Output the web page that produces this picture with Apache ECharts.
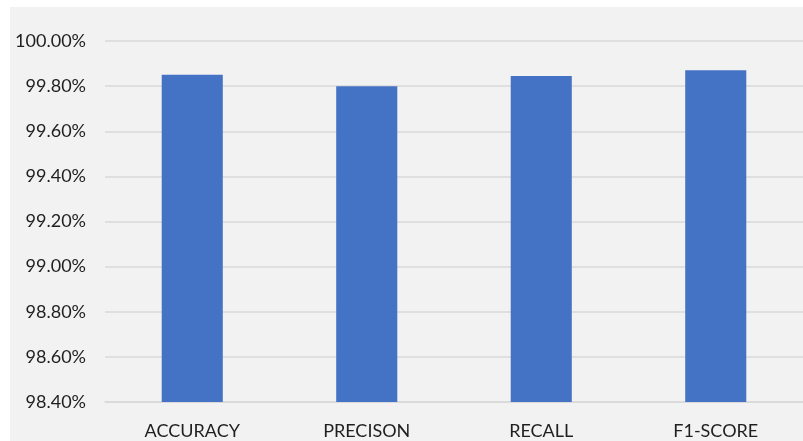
<!DOCTYPE html>
<html>
<head>
<meta charset="utf-8">
<script src="https://cdn.jsdelivr.net/npm/echarts@6/dist/echarts.min.js"></script>
<style>
  html, body { margin: 0; padding: 0; background: #ffffff; }
  #chart { position: absolute; left: 10px; top: 7px; width: 793px; height: 434px; background: #f2f2f2; }
</style>
</head>
<body>
<div id="chart"></div>
<script>
const categories = ['ACCURACY', 'PRECISON', 'RECALL', 'F1-SCORE']
const scores = [99.85, 99.80, 99.845, 99.87]
const yMin = 98.4
const yMax = 100
const yStep = 0.2

const chart = echarts.init(document.getElementById('chart'))
chart.setOption({
  animation: false,
  backgroundColor: '#f2f2f2',
  grid: { left: 95, right: -2, top: 34, bottom: 39 },
  xAxis: {
    type: 'category',
    data: categories,
    axisTick: { show: false },
    axisLine: { lineStyle: { color: '#d9d9d9', width: 1.5 } },
    axisLabel: {
      color: '#1f1f1f',
      fontFamily: 'Lato',
      fontSize: 18,
      margin: 20
    }
  },
  yAxis: {
    type: 'value',
    min: yMin,
    max: yMax,
    interval: yStep,
    axisLine: { show: false },
    axisTick: { show: false },
    splitLine: { lineStyle: { color: '#d9d9d9', width: 1.5 } },
    axisLabel: {
      color: '#1f1f1f',
      fontFamily: 'Lato',
      fontSize: 18,
      margin: 19,
      formatter: v => v.toFixed(2) + '%'
    }
  },
  series: [{
    type: 'bar',
    data: scores,
    barWidth: '35%',
    itemStyle: { color: '#4472c4' }
  }]
})
</script>
</body>
</html>
